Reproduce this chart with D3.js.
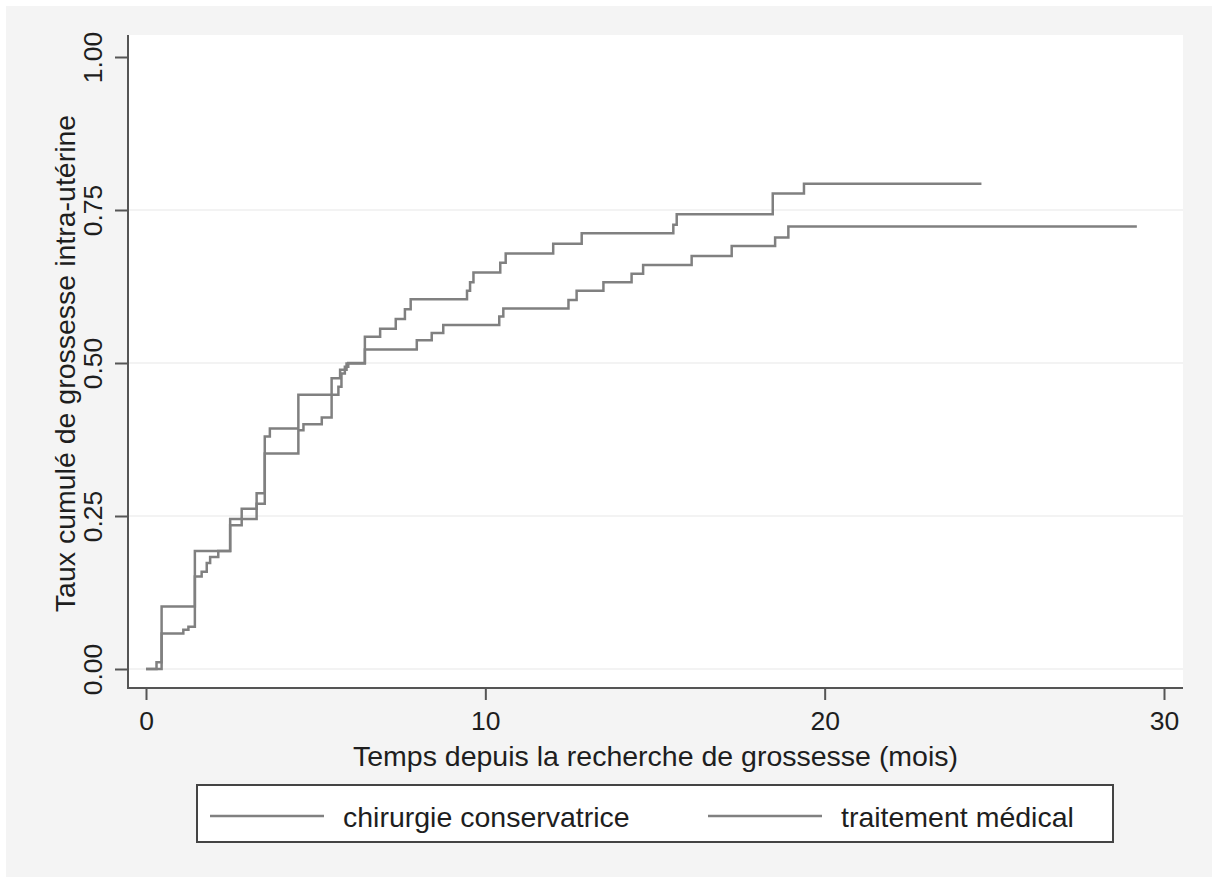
<!DOCTYPE html>
<html>
<head>
<meta charset="utf-8">
<script src="https://cdn.jsdelivr.net/npm/d3@7"></script>
<style>
  html, body { margin: 0; padding: 0; background: #fff; }
  svg { display: block; font-family: "Liberation Sans", Arial, Helvetica, sans-serif; }
</style>
</head>
<body>
<div id="chart"></div>
<script>
// Kaplan-Meier style cumulative curves (time in months, cumulative rate)
const timesChir = [0, 0.46, 1.44, 2.48, 2.82, 3.26, 3.5, 3.65, 4.49, 5.67, 5.76, 5.86, 5.96, 6.45, 6.9, 7.36, 7.63, 7.8, 9.46, 9.55, 9.65, 10.44, 10.6, 12.0, 12.84, 15.54, 15.64, 18.47, 19.39, 24.62]
const valuesChir = [0, 0.102, 0.193, 0.245, 0.262, 0.287, 0.38, 0.393, 0.448, 0.461, 0.483, 0.494, 0.5, 0.543, 0.556, 0.572, 0.588, 0.604, 0.618, 0.632, 0.648, 0.664, 0.679, 0.695, 0.712, 0.726, 0.743, 0.777, 0.793, 0.793]

const timesMed = [0, 0.31, 0.46, 1.1, 1.25, 1.44, 1.64, 1.79, 1.89, 2.13, 2.48, 2.82, 3.26, 3.5, 4.49, 4.64, 5.18, 5.47, 5.72, 5.91, 6.45, 7.98, 8.42, 8.76, 10.41, 10.53, 12.45, 12.69, 13.48, 14.31, 14.65, 16.08, 17.26, 18.54, 18.93, 29.2]
const valuesMed = [0, 0.011, 0.058, 0.064, 0.069, 0.151, 0.159, 0.173, 0.183, 0.193, 0.235, 0.245, 0.27, 0.352, 0.39, 0.4, 0.411, 0.475, 0.489, 0.499, 0.522, 0.537, 0.549, 0.562, 0.576, 0.589, 0.603, 0.618, 0.632, 0.646, 0.66, 0.675, 0.691, 0.705, 0.723, 0.723]

const xTicks = [0, 10, 20, 30]
const yTicks = [0, 0.25, 0.5, 0.75, 1]
const gridTicks = [0, 0.25, 0.5, 0.75]
const seriesNames = ['chirurgie conservatrice', 'traitement médical']
const xTitle = 'Temps depuis la recherche de grossesse (mois)'
const yTitle = 'Taux cumulé de grossesse intra-utérine'

const W = 1212
const H = 879
const plot = {left: 128, right: 1183, top: 35, bottom: 688}
const lineColor = '#808080'
const axisColor = '#555'
const textColor = '#1e1e1e'

const svg = d3.select('#chart').append('svg')
  .attr('width', W)
  .attr('height', H)

// outer gray frame and white plot region
svg.append('rect')
  .attr('x', 6).attr('y', 6)
  .attr('width', W - 6).attr('height', H - 8)
  .attr('fill', '#f4f4f4')
svg.append('rect')
  .attr('x', plot.left).attr('y', plot.top)
  .attr('width', plot.right - plot.left).attr('height', plot.bottom - plot.top)
  .attr('fill', '#fff')

const x = d3.scaleLinear().domain([0, 30]).range([146, 1164])
const y = d3.scaleLinear().domain([0, 1]).range([669, 57])

// grid
svg.append('g').selectAll('line')
  .data(gridTicks)
  .enter()
  .append('line')
  .attr('x1', plot.left).attr('x2', plot.right)
  .attr('y1', d => y(d)).attr('y2', d => y(d))
  .attr('stroke', '#efefef')
  .attr('stroke-width', 1.5)

// curves
let line = d3.line()
  .x(d => x(d[0]))
  .y(d => y(d[1]))
  .curve(d3.curveStepAfter)

let series = [
  d3.zip(timesChir, valuesChir),
  d3.zip(timesMed, valuesMed)
]
svg.append('g').selectAll('path')
  .data(series)
  .enter()
  .append('path')
  .attr('d', line)
  .attr('fill', 'none')
  .attr('stroke', lineColor)
  .attr('stroke-width', 2.5)

// axes
let yAxis = svg.append('g')
  .attr('transform', `translate(${plot.left},0)`)
  .call(d3.axisLeft(y).tickValues(yTicks).tickFormat(d3.format('.2f')).tickSize(13).tickSizeOuter(0))
yAxis.select('.domain').remove()
yAxis.selectAll('.tick line').attr('stroke', axisColor).attr('stroke-width', 2)
yAxis.selectAll('.tick text')
  .attr('x', 0).attr('y', 0).attr('dy', null)
  .attr('transform', 'translate(-26,0) rotate(-90)')
  .attr('text-anchor', 'middle')
  .attr('font-size', 26.5)
  .attr('fill', textColor)

let xAxis = svg.append('g')
  .attr('transform', `translate(0,${plot.bottom})`)
  .call(d3.axisBottom(x).tickValues(xTicks).tickSize(12).tickSizeOuter(0))
xAxis.select('.domain').remove()
xAxis.selectAll('.tick line').attr('stroke', axisColor).attr('stroke-width', 2)
xAxis.selectAll('.tick text')
  .attr('y', 42).attr('dy', null)
  .attr('font-size', 26.5)
  .attr('fill', textColor)
svg.selectAll('.tick text').attr('font-family', null)

svg.append('line')
  .attr('x1', plot.left).attr('x2', plot.left)
  .attr('y1', plot.top).attr('y2', plot.bottom + 1)
  .attr('stroke', axisColor).attr('stroke-width', 2)
svg.append('line')
  .attr('x1', plot.left - 1).attr('x2', plot.right)
  .attr('y1', plot.bottom).attr('y2', plot.bottom)
  .attr('stroke', axisColor).attr('stroke-width', 2)

// titles
svg.append('text')
  .text(xTitle)
  .attr('x', (plot.left + plot.right) / 2)
  .attr('y', 766)
  .attr('text-anchor', 'middle')
  .attr('font-size', 28.5)
  .attr('fill', textColor)
svg.append('text')
  .text(yTitle)
  .attr('transform', `translate(75,${(112 + 615) / 2}) rotate(-90)`)
  .attr('text-anchor', 'middle')
  .attr('font-size', 28.5)
  .attr('fill', textColor)

// legend
let legend = svg.append('g')
legend.append('rect')
  .attr('x', 197).attr('y', 785)
  .attr('width', 916).attr('height', 57)
  .attr('fill', '#fff')
  .attr('stroke', '#444')
  .attr('stroke-width', 2)
let legendX = [210, 708]
let item = legend.selectAll('.legend')
  .data(seriesNames)
  .enter()
  .append('g')
  .attr('class', 'legend')
item.append('line')
  .attr('x1', (d, i) => legendX[i]).attr('x2', (d, i) => legendX[i] + 114)
  .attr('y1', 816).attr('y2', 816)
  .attr('stroke', lineColor)
  .attr('stroke-width', 2.5)
item.append('text')
  .text(d => d)
  .attr('x', (d, i) => legendX[i] + 133)
  .attr('y', 827)
  .attr('font-size', 28.5)
  .attr('fill', textColor)
</script>
</body>
</html>
